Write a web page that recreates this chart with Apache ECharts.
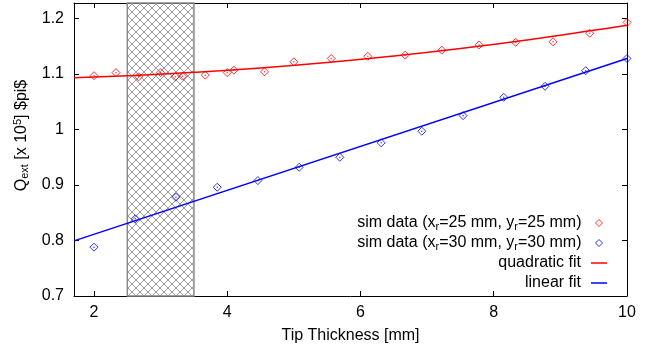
<!DOCTYPE html>
<html><head><meta charset="utf-8">
<script src="https://cdn.jsdelivr.net/npm/echarts@6/dist/echarts.min.js"></script>
<style>html,body{margin:0;padding:0;background:#fff}#c{width:661px;height:355px}</style>
</head><body><div id="c"></div>
<script>
// ---- data ----
const redX = [2.0, 2.33, 2.67, 3.0, 3.22, 3.33, 3.67, 4.0, 4.1, 4.56, 5.0, 5.56, 6.11, 6.67, 7.22, 7.78, 8.33, 8.89, 9.44, 10.0];
const redY = [1.097, 1.1025, 1.095, 1.1025, 1.095, 1.096, 1.098, 1.1025, 1.107, 1.104, 1.122, 1.128, 1.132, 1.134, 1.143, 1.1525, 1.157, 1.158, 1.1735, 1.193];
const blueX = [2.0, 2.62, 3.23, 3.85, 4.46, 5.08, 5.69, 6.31, 6.92, 7.54, 8.15, 8.77, 9.38, 10.0];
const blueY = [0.788, 0.839, 0.878, 0.896, 0.908, 0.932, 0.950, 0.976, 0.997, 1.025, 1.058, 1.078, 1.106, 1.128];
const quadFitX = [1.7, 2.5, 3.5, 4.5, 5.5, 6.5, 7.5, 8.5, 9.5, 10.0];
const quadFitY = [1.0935, 1.097, 1.1031, 1.111, 1.1208, 1.1325, 1.146, 1.1614, 1.1787, 1.188];
const linFitX = [1.7, 10.0];
const linFitY = [0.7993, 1.128];
const xTicks = [2, 4, 6, 8, 10];
const yTicks = [0.7, 0.8, 0.9, 1, 1.1, 1.2];
const shadeRange = [2.5, 3.5];
const seriesNames = ['sim25', 'sim30', 'quadratic fit', 'linear fit'];
const legendLabels = {
  'sim25': 'sim data (x{sub|r}=25 mm, y{sub|r}=25 mm)',
  'sim30': 'sim data (x{sub|r}=30 mm, y{sub|r}=30 mm)',
  'quadratic fit': 'quadratic fit',
  'linear fit': 'linear fit'
};
const xName = 'Tip Thickness [mm]';
const yName = 'Q{sub|ext} [x 10{sup|5}] $pi$';

// ---- rendering ----
const FONT = 'Liberation Sans, Arial, Helvetica, sans-serif';
const zip = (a, b) => a.map((v, i) => [v, b[i]]);

const pc = document.createElement('canvas');
pc.width = 8; pc.height = 8;
const g = pc.getContext('2d');
g.strokeStyle = '#9a9a9a'; g.lineWidth = 1;
g.beginPath(); g.moveTo(0, 0); g.lineTo(8, 8); g.moveTo(8, 0); g.lineTo(0, 8); g.stroke();

const rich = {
  sub: {fontSize: 11, fontFamily: FONT, color: '#000', padding: [7, 0, 0, 0]},
  sup: {fontSize: 11, fontFamily: FONT, color: '#000', padding: [0, 0, 7, 0]}
};

const axisCommon = {
  type: 'value',
  axisLine: {show: true, lineStyle: {color: '#000', width: 1}},
  splitLine: {show: false}
};

const chart = echarts.init(document.getElementById('c'), null, {renderer: 'canvas'});
const rowTops = [214, 234, 254, 274];
const legendColors = ['#ff0000', '#0000ff', '#ff0000', '#0000ff'];
chart.setOption({
  animation: false,
  backgroundColor: '#fff',
  grid: {left: 74, right: 34, top: 3, bottom: 59},
  xAxis: [
    Object.assign({}, axisCommon, {
      min: 1.7, max: 10, position: 'bottom',
      axisTick: {inside: true, length: 5, customValues: xTicks, lineStyle: {color: '#000'}},
      axisLabel: {customValues: xTicks, fontSize: 16, fontFamily: FONT, color: '#000', margin: 9},
      name: xName, nameLocation: 'middle', nameGap: 32,
      nameTextStyle: {fontSize: 16, fontFamily: FONT, color: '#000'}
    }),
    Object.assign({}, axisCommon, {
      min: 1.7, max: 10, position: 'top',
      axisTick: {inside: true, length: 5, customValues: xTicks, lineStyle: {color: '#000'}},
      axisLabel: {show: false}
    })
  ],
  yAxis: [
    Object.assign({}, axisCommon, {
      min: 0.7, max: 1.228, position: 'left',
      axisTick: {inside: true, length: 5, customValues: yTicks, lineStyle: {color: '#000'}},
      axisLabel: {customValues: yTicks, fontSize: 16, fontFamily: FONT, color: '#000', margin: 10},
      name: yName, nameLocation: 'middle', nameGap: 38,
      nameTextStyle: {fontSize: 16, fontFamily: FONT, color: '#000', rich: rich, padding: [0, 0, 0, 28]}
    }),
    Object.assign({}, axisCommon, {
      min: 0.7, max: 1.228, position: 'right',
      axisTick: {inside: true, length: 5, customValues: yTicks, lineStyle: {color: '#000'}},
      axisLabel: {show: false}
    })
  ],
  legend: seriesNames.map((n, i) => {
    const isScatter = i < 2;
    return {
      data: [isScatter
        ? {name: n, icon: 'diamond', itemStyle: {color: 'rgba(0,0,0,0)', borderColor: legendColors[i], borderWidth: 1}}
        : {name: n, icon: 'rect', itemStyle: {color: legendColors[i], borderWidth: 0}}],
      right: isScatter ? 58 : 54, top: rowTops[i], orient: 'vertical', align: 'right', padding: 0,
      itemWidth: isScatter ? 7 : 16, itemHeight: isScatter ? 7 : 1.5, selectedMode: false,
      formatter: name => legendLabels[name],
      textStyle: {fontSize: 16, fontFamily: FONT, color: '#000', lineHeight: 18,
        padding: [0, isScatter ? 9 : 5, 0, 0], rich: rich}
    };
  }),
  series: [
    {
      name: seriesNames[0], type: 'scatter', data: zip(redX, redY), symbol: 'diamond', symbolSize: 8,
      itemStyle: {color: 'rgba(0,0,0,0)', borderColor: '#ff0000', borderWidth: 1}, z: 4,
      markArea: {
        silent: true,
        itemStyle: {color: {image: pc, repeat: 'repeat'}, borderColor: '#8a8a8a', borderWidth: 1.5},
        data: [[{xAxis: shadeRange[0]}, {xAxis: shadeRange[1]}]]
      }
    },
    {
      name: 'dot25', type: 'scatter', data: zip(redX, redY), symbol: 'circle', symbolSize: 1.5,
      itemStyle: {color: '#ff0000'}, silent: true, z: 4
    },
    {
      name: seriesNames[1], type: 'scatter', data: zip(blueX, blueY), symbol: 'diamond', symbolSize: 8,
      itemStyle: {color: 'rgba(0,0,0,0)', borderColor: '#0000ff', borderWidth: 1}, z: 4
    },
    {
      name: 'dot30', type: 'scatter', data: zip(blueX, blueY), symbol: 'circle', symbolSize: 1.5,
      itemStyle: {color: '#0000ff'}, silent: true, z: 4
    },
    {
      name: seriesNames[2], type: 'line', data: zip(quadFitX, quadFitY), symbol: 'none', smooth: true,
      lineStyle: {color: '#ff0000', width: 1.5}, itemStyle: {color: '#ff0000'}, z: 3
    },
    {
      name: seriesNames[3], type: 'line', data: zip(linFitX, linFitY), symbol: 'none',
      lineStyle: {color: '#0000ff', width: 1.5}, itemStyle: {color: '#0000ff'}, z: 3
    }
  ]
});
</script>
</body></html>
